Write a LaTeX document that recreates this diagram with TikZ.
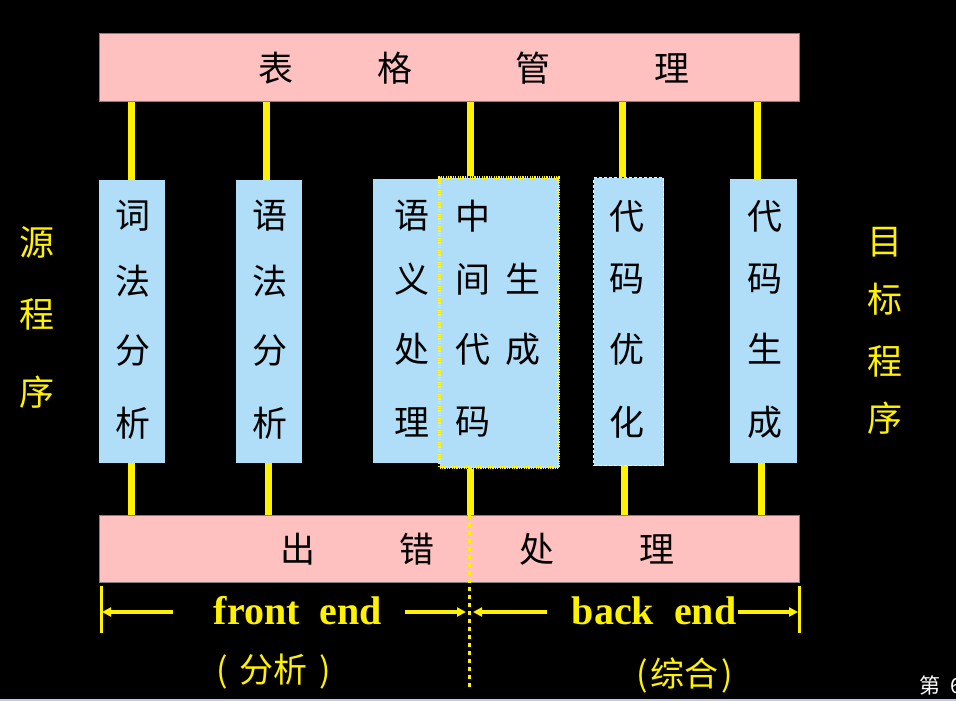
\documentclass[tikz,border=0pt]{standalone}
\usepackage{fontspec}
\setmainfont{Liberation Serif}
\newfontfamily\cjk{Noto Sans CJK SC}
\usetikzlibrary{arrows.meta}
\definecolor{barpink}{RGB}{255,192,192}
\definecolor{boxblue}{RGB}{176,222,248}
\definecolor{edgeline}{RGB}{196,200,240}
\begin{document}
\begin{tikzpicture}[x=1pt,y=-1pt,
  bar/.style={fill=barpink, draw=gray, line width=1pt, minimum width=700pt, minimum height=68pt, inner sep=0pt, anchor=north west},
  phase/.style={fill=boxblue, inner sep=0pt, anchor=north west},
  ch/.style={font=\cjk\fontsize{35}{35}\selectfont, text=black, inner sep=0pt},
  ych/.style={ch, text=yellow},
  link/.style={draw=yellow, line width=7pt},
  yarrow/.style={draw=yellow, line width=3.5pt, -{Triangle[length=9pt,width=9pt]}},
  endbar/.style={draw=yellow, line width=3pt},
  ytext/.style={font=\bfseries\fontsize{40}{40}\selectfont, text=yellow, inner sep=0pt},
]
\fill[black] (0,0) rectangle (956,701);
\useasboundingbox (0,0) rectangle (956,701);
\fill[edgeline] (0,698.5) rectangle (956,701);

% bars
\node[bar] (top) at (99,33) {};
\node[bar, minimum height=67pt] (bot) at (99,515) {};
\foreach \c/\x [count=\i] in {表/276,格/395,管/533,理/672}
  \node[ch] (topt\i) at (\x,68) {\c};
\foreach \c/\x [count=\i] in {出/298,错/417,处/537,理/657}
  \node[ch] (bott\i) at (\x,549) {\c};

% connector x positions
\coordinate (t1) at (131,0); \coordinate (t2) at (266,0); \coordinate (t3) at (470,0);
\coordinate (t4) at (622,0); \coordinate (t5) at (757,0);
\coordinate (u1) at (131,0); \coordinate (u2) at (268,0); \coordinate (u3) at (470,0);
\coordinate (u4) at (624,0); \coordinate (u5) at (761,0);

% phase boxes
\node[phase, minimum width=66pt, minimum height=283pt] (b1) at (99,180) {};
\node[phase, minimum width=66pt, minimum height=283pt] (b2) at (236,180) {};
\node[phase, minimum width=67pt, minimum height=284pt] (b3) at (373,179) {};
\node[phase, minimum width=119pt, minimum height=290pt, draw=yellow!85!white, line width=3pt, dash pattern=on 1.2pt off 1.2pt] (b4) at (438,176) {};
\node[phase, minimum width=70pt, minimum height=288pt, draw=white!80!boxblue, line width=1.2pt, dash pattern=on 3pt off 2pt] (b5) at (593,177) {};
\node[phase, minimum width=67pt, minimum height=284pt] (b6) at (730,179) {};

% connectors
\draw[link] (top.south -| t1) -- (b1.north -| t1);
\draw[link] (top.south -| t2) -- (b2.north -| t2);
\draw[link] (top.south -| t3) -- (b4.north -| t3);
\draw[link] (top.south -| t4) -- (b5.north -| t4);
\draw[link] (top.south -| t5) -- (b6.north -| t5);
\draw[link] (b1.south -| u1) -- (bot.north -| u1);
\draw[link] (b2.south -| u2) -- (bot.north -| u2);
\draw[link] (b4.south -| u3) -- (bot.north -| u3);
\draw[link] (b5.south -| u4) -- (bot.north -| u4);
\draw[link] (b6.south -| u5) -- (bot.north -| u5);

% box texts
\foreach \c/\y [count=\i] in {词/216,法/281,分/351,析/423}
  \node[ch] (b1t\i) at (133,\y) {\c};
\foreach \c/\y [count=\i] in {语/216,法/281,分/351,析/423}
  \node[ch] (b2t\i) at (270,\y) {\c};
\foreach \c/\y [count=\i] in {语/216,义/279,处/349,理/422}
  \node[ch] (b3t\i) at (412,\y) {\c};
\foreach \c/\y [count=\i] in {中/216,间/279,代/349,码/422}
  \node[ch] (b4t\i) at (473,\y) {\c};
\node[ch] (b4s1) at (523,279) {生};
\node[ch] (b4s2) at (523,349) {成};
\foreach \c/\y [count=\i] in {代/216,码/279,优/349,化/422}
  \node[ch] (b5t\i) at (627,\y) {\c};
\foreach \c/\y [count=\i] in {代/216,码/279,生/349,成/422}
  \node[ch] (b6t\i) at (765,\y) {\c};

% side labels
\foreach \c/\y [count=\i] in {源/242,程/314,序/392}
  \node[ych] (src\i) at (37,\y) {\c};
\foreach \c/\y [count=\i] in {目/242,标/299,程/361,序/418}
  \node[ych] (tgt\i) at (885,\y) {\c};

% front / back end
\coordinate (lb1) at (101,586); \coordinate (lb2) at (101,633);
\coordinate (rb1) at (799,586); \coordinate (rb2) at (799,633);
\draw[endbar] (lb1) -- (lb2);
\draw[endbar] (rb1) -- (rb2);
\coordinate (ltip) at (102,612); \coordinate (rtip) at (798,612);
\coordinate (mtop) at (469,467); \coordinate (mbot) at (469,688);
\coordinate (mlt) at (466,612); \coordinate (mrt) at (473,612);
\coordinate (a1) at (173,612); \coordinate (a2) at (405,612);
\coordinate (a3) at (547,612); \coordinate (a4) at (738,612);
\draw[yarrow] (a1) -- (ltip);
\draw[yarrow] (a2) -- (mlt);
\draw[yarrow] (a3) -- (mrt);
\draw[yarrow] (a4) -- (rtip);
\draw[draw=yellow, line width=3pt, dash pattern=on 4pt off 4pt] (mtop) -- (mbot);

\node[ytext] (fe) at (298,611) {front\ \ end};
\node[ytext] (be) at (654,611) {back\ \ end};
\node[ych, font=\cjk\fontsize{34}{36}\selectfont] (fa) at (274,672) {(\hspace{12pt}分析\hspace{12pt})};
\node[ych, font=\cjk\fontsize{34}{36}\selectfont] (za) at (685,675) {(\hspace{3pt}综合\hspace{3pt})};

\node[font=\cjk\fontsize{21}{21}\selectfont, text=white, anchor=west, inner sep=0pt] (pg) at (919,685) {第\hspace{10pt}6};
\end{tikzpicture}
\end{document}
